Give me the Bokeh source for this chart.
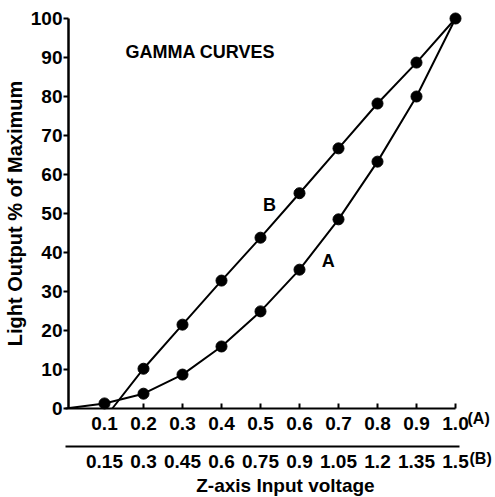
from bokeh.plotting import figure
from bokeh.models import Range1d, LinearAxis, FixedTicker, Label
from bokeh.embed import file_html
from bokeh.resources import INLINE

# Data (Z-axis input voltage vs light output, % of max)
a_line_x = [0.0, 0.1, 0.2, 0.3, 0.4, 0.5, 0.6, 0.7, 0.8, 0.9, 1.0]
a_line_y = [0.0, 1.3, 3.8, 8.7, 15.9, 24.9, 35.6, 48.5, 63.3, 80.0, 100.0]
b_line_x = [0.12, 0.2, 0.3, 0.4, 0.5, 0.6, 0.7, 0.8, 0.9, 1.0]
b_line_y = [0.0, 10.2, 21.5, 32.8, 43.8, 55.2, 66.7, 78.2, 88.7, 100.0]
a_pts_x = [0.1, 0.2, 0.3, 0.4, 0.5, 0.6, 0.7, 0.8, 0.9, 1.0]
a_pts_y = [1.3, 3.8, 8.7, 15.9, 24.9, 35.6, 48.5, 63.3, 80.0, 100.0]
b_pts_x = [0.2, 0.3, 0.4, 0.5, 0.6, 0.7, 0.8, 0.9]
b_pts_y = [10.2, 21.5, 32.8, 43.8, 55.2, 66.7, 78.2, 88.7]

y_ticks = [0, 10, 20, 30, 40, 50, 60, 70, 80, 90, 100]
a_ticks = [0.1, 0.2, 0.3, 0.4, 0.5, 0.6, 0.7, 0.8, 0.9, 1.0]
a_tick_labels = ["0.1", "0.2", "0.3", "0.4", "0.5", "0.6", "0.7", "0.8", "0.9", "1.0"]
b_ticks = [0.15, 0.3, 0.45, 0.6, 0.75, 0.9, 1.05, 1.2, 1.35, 1.5]
b_tick_labels = ["0.15", "0.3", "0.45", "0.6", "0.75", "0.9", "1.05", "1.2", "1.35", "1.5"]

FONT = "Liberation Sans"
W, H = 495, 497
# pixel layout of the reference: x=0 at 65px, 0.1 per 39px; y=0 at 408px, 10 per 39px
X0, X1 = -65 / 390, (W - 65) / 390
Y0, Y1 = -(H - 408) / 3.9, 100 + 18 / 3.9
B_SCALE = 1.5

p = figure(width=W, height=H, output_backend="svg", toolbar_location=None,
           x_range=Range1d(X0, X1), y_range=Range1d(Y0, Y1),
           min_border=0, outline_line_color=None,
           background_fill_color="white", border_fill_color="white")
p.extra_x_ranges = {"B": Range1d(X0 * B_SCALE, X1 * B_SCALE)}
p.grid.visible = False

def style_labels(ax, size="19px"):
    ax.major_label_text_font = FONT
    ax.major_label_text_font_style = "bold"
    ax.major_label_text_font_size = size
    ax.major_label_text_color = "black"
    ax.minor_tick_line_color = None

# Y axis
ya = p.yaxis[0]
ya.fixed_location = 0.0077
ya.ticker = FixedTicker(ticks=y_ticks)
ya.bounds = (0, 100)
ya.axis_line_width = 2.5
ya.major_tick_line_width = 2
ya.major_tick_out = 5
ya.major_tick_in = 0
ya.major_label_standoff = 1
style_labels(ya)
ya.axis_label = "Light Output % of Maximum"
ya.axis_label_text_font = FONT
ya.axis_label_text_font_style = "bold"
ya.axis_label_text_font_size = "20px"
ya.axis_label_text_color = "black"
ya.axis_label_standoff = 2

# X axis (A)
xa = p.xaxis[0]
xa.fixed_location = 0
xa.ticker = FixedTicker(ticks=a_ticks)
xa.major_label_overrides = dict(zip(a_ticks, a_tick_labels))
xa.bounds = (0.0077, 1.0)
xa.axis_line_width = 2
xa.major_tick_line_width = 2
xa.major_tick_in = 5
xa.major_tick_out = 0
xa.major_label_standoff = 8
style_labels(xa)

# X axis (B)
xb = LinearAxis(x_range_name="B")
xb.fixed_location = -(446 - 408) / 3.9
xb.ticker = FixedTicker(ticks=b_ticks)
xb.major_label_overrides = dict(zip(b_ticks, b_tick_labels))
xb.bounds = (0.0, 1.515)
xb.axis_line_width = 2
xb.major_tick_line_color = None
xb.major_tick_in = 0
xb.major_tick_out = 0
xb.major_label_standoff = 8
style_labels(xb)
p.add_layout(xb, "below")

# Curves
p.line(a_line_x, a_line_y, line_color="black", line_width=2)
p.line(b_line_x, b_line_y, line_color="black", line_width=2)
p.scatter(a_pts_x, a_pts_y, size=11, color="black")
p.scatter(b_pts_x, b_pts_y, size=11, color="black")

def lab(x, y, text, size="18px", align="center", baseline="middle", xo=0, yo=0):
    p.add_layout(Label(x=x, y=y, text=text, x_offset=xo, y_offset=yo,
                       text_font=FONT, text_font_style="bold", text_font_size=size,
                       text_color="black", text_align=align, text_baseline=baseline))

lab(0.3455, 91.5, "GAMMA CURVES", size="18px")
lab(0.523, 52.3, "B")
lab(0.674, 37.9, "A")
lab(1.0, 0, "(A)", size="16px", align="left", xo=12, yo=-10)
lab(1.0, 0, "(B)", size="16px", align="left", xo=14, yo=-50)
lab(0.564, 0, "Z-axis Input voltage", size="19px", baseline="bottom", yo=-87)

open("out.html", "w").write(file_html(p, INLINE))
